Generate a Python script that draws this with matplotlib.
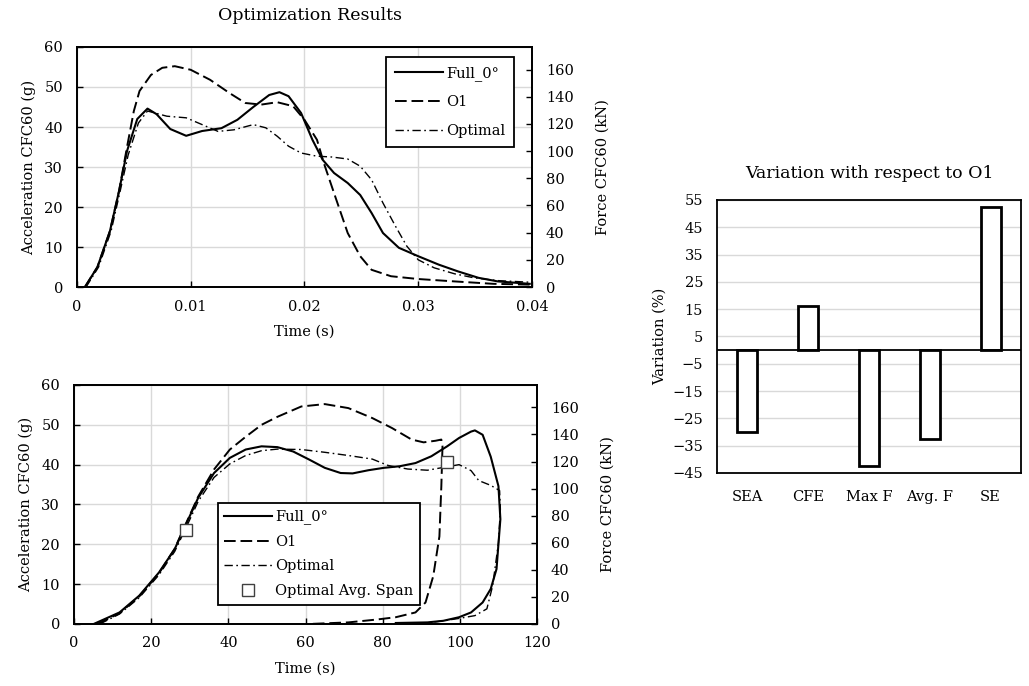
import numpy as np
import matplotlib.pyplot as plt

# top panel: acceleration vs time
t_full = [0.0007, 0.0018, 0.0029, 0.0037, 0.0044, 0.0053, 0.0062, 0.0070, 0.0082, 0.0096,
          0.0110, 0.0127, 0.0141, 0.0155, 0.0169, 0.0178, 0.0186, 0.0197, 0.0207, 0.0216,
          0.0226, 0.0238, 0.0249, 0.0259, 0.0269, 0.0283, 0.0300, 0.0318, 0.0335, 0.0353,
          0.0370, 0.0398]
a_full = [0, 5, 14, 24, 34, 42, 44.6, 43.2, 39.5, 37.8,
          39.0, 39.7, 41.8, 45.0, 48.0, 48.7, 47.7, 43.5, 36.8, 31.8,
          28.5, 26.0, 23.0, 18.5, 13.5, 9.8, 7.7, 5.6, 3.9, 2.3,
          1.4, 0.8]

t_o1 = [0.0007, 0.0018, 0.0029, 0.0037, 0.0044, 0.0050, 0.0055, 0.0065, 0.0075, 0.0086,
        0.0100, 0.0117, 0.0134, 0.0148, 0.0162, 0.0176, 0.0190, 0.0200, 0.0211, 0.0217,
        0.0228, 0.0238, 0.0249, 0.0259, 0.0276, 0.0300, 0.0332, 0.0366, 0.0398]
a_o1 = [0, 5, 14, 24, 35, 44, 49, 53, 54.8, 55.2,
        54.3, 51.8, 48.5, 46.0, 45.6, 46.2, 45.2, 41.8, 36.8, 31.0,
        21.8, 13.5, 7.7, 4.3, 2.7, 2.0, 1.4, 0.8, 0.6]

t_opt = [0.0008, 0.0019, 0.0030, 0.0038, 0.0045, 0.0054, 0.0062, 0.0079, 0.0096, 0.0110,
         0.0124, 0.0138, 0.0155, 0.0166, 0.0176, 0.0186, 0.0197, 0.0211, 0.0224, 0.0238,
         0.0249, 0.0259, 0.0269, 0.0280, 0.0290, 0.0300, 0.0314, 0.0332, 0.0349, 0.0370,
         0.0398]
a_opt = [0, 5, 14, 24, 33, 41, 44.0, 42.7, 42.3, 40.6,
         38.9, 39.3, 40.6, 39.8, 37.7, 35.2, 33.5, 32.7, 32.5, 32.0,
         30.2, 26.8, 21.0, 15.2, 10.2, 6.8, 4.8, 3.3, 2.3, 1.6,
         1.2]

# bottom panel: acceleration vs displacement (loops back on rebound)
d_full = [5.1, 11.8, 16.9, 22.0, 26.1, 29.2, 32.2, 36.3, 40.4, 44.5, 48.6, 52.7, 56.8,
          60.9, 65.0, 69.1, 72.2, 76.3, 80.3, 84.4, 88.5, 92.6, 96.7, 99.8, 102.9,
          103.9, 105.9, 108.0, 110.0, 110.5, 109.5, 108.0, 105.9, 102.9, 99.8, 95.7,
          91.6, 83.4]
g_full = [0, 2.9, 7.1, 12.9, 18.8, 25.4, 31.7, 37.9, 41.7, 43.8, 44.6, 44.4, 43.3,
          41.3, 39.2, 37.9, 37.8, 38.6, 39.2, 39.6, 40.4, 42.1, 44.6, 46.7, 48.3,
          48.6, 47.5, 42.0, 34.6, 26.3, 13.8, 8.8, 5.4, 2.9, 1.7, 0.8,
          0.4, 0.25]

d_o1 = [6.1, 11.8, 16.9, 22.0, 26.1, 29.2, 32.2, 36.3, 40.4, 44.5, 48.6, 52.7, 58.9,
        65.0, 71.1, 77.3, 82.4, 87.5, 90.6, 93.7, 95.2, 95.5, 95.2, 94.7, 93.1, 91.1,
        88.5, 83.4, 78.3, 71.1, 60.9]
g_o1 = [0, 2.7, 6.9, 12.7, 18.9, 25.6, 32.0, 38.8, 43.8, 47.0, 50.0, 52.0, 54.6,
        55.2, 54.2, 51.7, 49.2, 46.3, 45.6, 46.0, 46.3, 44.6, 34.6, 22.0, 12.0, 5.4,
        2.9, 1.7, 1.1, 0.4, 0]

d_opt = [6.7, 11.8, 16.9, 22.0, 26.1, 29.2, 32.2, 36.3, 40.4, 44.5, 48.6, 52.7, 58.9,
         65.0, 71.1, 77.3, 81.4, 86.5, 91.6, 95.7, 99.8, 102.9, 104.9, 108.0, 110.3,
         110.5, 110.0, 108.5, 107.0, 103.9, 99.8, 95.7, 91.6]
g_opt = [0, 2.5, 6.6, 12.3, 18.2, 24.5, 30.8, 36.8, 40.2, 42.3, 43.5, 43.9, 43.8,
         43.1, 42.3, 41.4, 39.8, 38.9, 38.6, 39.3, 40.0, 38.5, 36.0, 34.8, 33.5,
         28.8, 20.4, 9.6, 3.8, 2.1, 1.4, 0.8, 0.25]

span_d = [28.9, 96.7]
span_g = [23.5, 40.6]

# right panel
categories = ['SEA', 'CFE', 'Max F', 'Avg. F', 'SE']
variation = [-30, 16, -42.5, -32.5, 52.5]

# force axis is acceleration * 9.81 * 0.3 t
KN_PER_G = 2.943

plt.rcParams['font.family'] = ['DejaVu Serif']
plt.rcParams['font.size'] = 10.5
plt.rcParams['axes.linewidth'] = 1.3

GRID = '#d9d9d9'
DASH = (0, (6, 2.5))
DASHDOT = (0, (6, 2.5, 1.2, 2.5))
fig = plt.figure(figsize=(10.29, 6.86), dpi=100)


def style_axes(ax, ax2):
    ax.grid(True, color=GRID, linewidth=1.0)
    ax.set_axisbelow(True)
    ax.tick_params(direction='in', length=4, width=1)
    ax.tick_params(axis='x', pad=9)
    ax.tick_params(axis='y', pad=10)
    ax2.tick_params(direction='in', length=4, width=1, pad=10)
    ax.set_ylim(0, 60)
    ax2.set_ylim(0, 60 * KN_PER_G)
    ax2.set_yticks(np.arange(0, 161, 20))
    ax.set_ylabel('Acceleration CFC60 (g)', fontsize=10.5, labelpad=6)
    ax2.set_ylabel('Force CFC60 (kN)', fontsize=10.5, labelpad=16)
    ax.set_xlabel('Time (s)', fontsize=10.5, labelpad=8)


def box_legend(ax, handles, anchor, **kw):
    leg = ax.legend(handles=handles, loc='upper left', bbox_to_anchor=anchor,
                    borderaxespad=0, fancybox=False, framealpha=1,
                    edgecolor='black', fontsize=10.5, **kw)
    leg.get_frame().set_linewidth(1.3)
    return leg


# top
ax1 = fig.add_axes([0.0748, 0.5816, 0.4422, 0.3499])
ax1b = ax1.twinx()
l1, = ax1.plot(t_full, a_full, color='black', lw=1.5, label='Full_0°')
l2, = ax1.plot(t_o1, a_o1, color='black', lw=1.4, ls=DASH, label='O1')
l3, = ax1.plot(t_opt, a_opt, color='black', lw=1.0, ls=DASHDOT, label='Optimal')
ax1.set_xlim(0, 0.04)
ax1.set_xticks([0, 0.01, 0.02, 0.03, 0.04])
ax1.set_xticklabels(['0', '0.01', '0.02', '0.03', '0.04'])
style_axes(ax1, ax1b)
box_legend(ax1b, [l1, l2, l3], (0.68, 0.958), handlelength=3.3, handletextpad=0.2,
           labelspacing=1.0, borderpad=0.6)
fig.text(0.301, 0.977, 'Optimization Results', ha='center', va='center', fontsize=12.5)

# bottom
ax3 = fig.add_axes([0.0719, 0.0904, 0.4500, 0.3484])
ax3b = ax3.twinx()
m1, = ax3.plot(d_full, g_full, color='black', lw=1.5, label='Full_0°')
m2, = ax3.plot(d_o1, g_o1, color='black', lw=1.4, ls=DASH, label='O1')
m3, = ax3.plot(d_opt, g_opt, color='black', lw=1.0, ls=DASHDOT, label='Optimal')
m4, = ax3.plot(span_d, span_g, ls='none', marker='s', ms=8, mfc='white', mec='#404040',
               mew=1.0, label='Optimal Avg. Span')
ax3.set_xlim(0, 120)
ax3.set_xticks(np.arange(0, 121, 20))
style_axes(ax3, ax3b)
box_legend(ax3b, [m1, m2, m3, m4], (0.310, 0.506), handlelength=3.3, handletextpad=0.2,
           labelspacing=0.72, borderpad=0.45)

# right bar chart
ax4 = fig.add_axes([0.6968, 0.3105, 0.2954, 0.398])
x = np.arange(len(categories))
ax4.bar(x, variation, width=0.33, color='white', edgecolor='black', linewidth=2, zorder=3)
ax4.axhline(0, color='black', lw=1.3, zorder=4)
ax4.set_xlim(-0.5, 4.5)
ax4.set_ylim(-45, 55)
ax4.set_yticks(np.arange(-45, 56, 10))
ax4.set_xticks(x)
ax4.set_xticklabels(categories)
ax4.tick_params(length=0, labelsize=10.5)
ax4.tick_params(axis='x', pad=12)
ax4.tick_params(axis='y', pad=10)
ax4.yaxis.grid(True, color=GRID, linewidth=1.0)
ax4.set_axisbelow(True)
ax4.set_ylabel('Variation (%)', fontsize=10.5, labelpad=4)
ax4.set_title('Variation with respect to O1', fontsize=12.5, pad=16)

fig.savefig('out.png', dpi=100)
